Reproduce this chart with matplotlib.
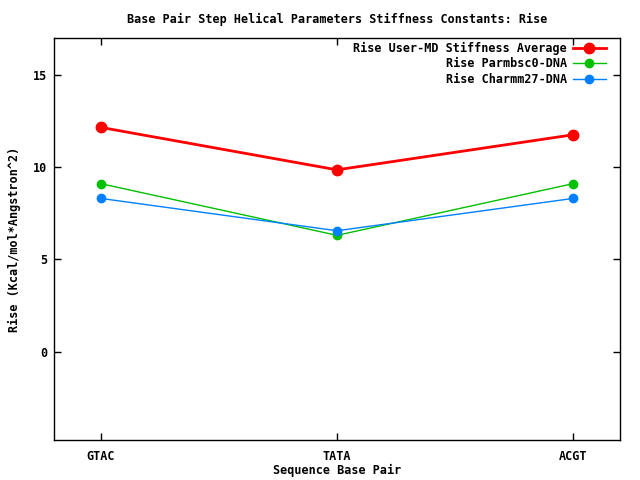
import matplotlib
matplotlib.use('Agg')
import matplotlib.pyplot as plt

plt.rcParams['font.family'] = ['DejaVu Sans Mono']
plt.rcParams['font.weight'] = 'bold'
plt.rcParams['axes.titleweight'] = 'bold'
plt.rcParams['axes.labelweight'] = 'bold'
plt.rcParams['font.size'] = 8.5

categories = ['GTAC', 'TATA', 'ACGT']
user_md = [12.15, 9.85, 11.75]
parmbsc0 = [9.1, 6.3, 9.1]
charmm27 = [8.3, 6.55, 8.3]

x = range(len(categories))

fig = plt.figure(figsize=(6.4, 4.8), dpi=100)
ax = fig.add_axes([0.084, 0.083, 0.885, 0.838])

ax.plot(x, user_md, color='#ff0000', lw=2, marker='o', ms=7.5,
        label='Rise User-MD Stiffness Average')
ax.plot(x, parmbsc0, color='#00c000', lw=1, marker='o', ms=6,
        label='Rise Parmbsc0-DNA')
ax.plot(x, charmm27, color='#0080ff', lw=1, marker='o', ms=6,
        label='Rise Charmm27-DNA')

ax.set_xlim(-0.2, 2.2)
ax.set_ylim(-4.8, 17)
ax.set_xticks(list(x))
ax.set_xticklabels(categories)
ax.set_yticks([0, 5, 10, 15])
ax.tick_params(direction='in', top=True, right=True, length=5, width=1)
ax.tick_params(axis='x', pad=7)
ax.tick_params(axis='y', pad=4.5)
for s in ax.spines.values():
    s.set_linewidth(1)

ax.set_title('Base Pair Step Helical Parameters Stiffness Constants: Rise',
             fontsize=8.5, pad=11)
ax.set_xlabel('Sequence Base Pair', labelpad=1)
ax.set_ylabel('Rise (Kcal/mol*Angstron^2)', labelpad=9)

ax.legend(loc='upper right', bbox_to_anchor=(0.975, 0.99), frameon=False,
          markerfirst=False, handlelength=2.8, labelspacing=0.2,
          borderaxespad=0, borderpad=0, handletextpad=0.5)

fig.savefig('out.png', dpi=100)
